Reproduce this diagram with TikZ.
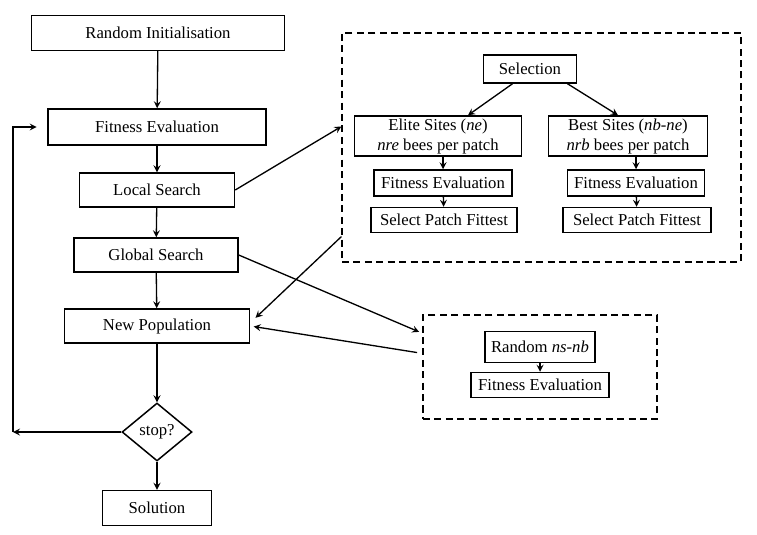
\documentclass[tikz,border=0pt]{standalone}
\usepackage{fontspec}
\setmainfont{Liberation Serif}
\usetikzlibrary{shapes.geometric}

\begin{document}
\begin{tikzpicture}[x=0.02cm, y=-0.02cm, >=stealth, line width=0.75pt,
  every node/.style={font=\fontsize{9.5}{11.4}\selectfont},
  box/.style={draw, line width=0.85pt, inner sep=1pt, minimum height=0.68cm},
  small box/.style={box, minimum height=0.5cm},
  dash box/.style={draw, line width=0.75pt, dash pattern=on 4pt off 2.5pt},
  decision/.style={draw, diamond, line width=0.85pt, inner sep=1pt,
    minimum width=1.4cm, minimum height=1.16cm}]

\useasboundingbox (0,0) rectangle (757,534);

% main loop
\node [box, minimum width=5.06cm, minimum height=0.7cm] (init) at (158,33) {Random Initialisation};
\node [box, minimum width=4.36cm, minimum height=0.72cm] (fit) at (157,127) {Fitness Evaluation};
\node [box, minimum width=3.10cm] (local) at (157,190) {Local Search};
\node [box, minimum width=3.28cm] (global) at (156,255) {Global Search};
\node [box, minimum width=3.70cm] (newpop) at (157,326) {New Population};
\node [decision] (stop) at (157,432) {stop?};
\node [box, minimum width=2.18cm, minimum height=0.7cm] (solution) at (157,508) {Solution};

\foreach \a/\b in {init/fit, fit/local, local/global, global/newpop, newpop/stop, stop/solution}
  \draw [->] (\a) -- (\b);

% back to fitness evaluation
\coordinate (loop) at (13,432);
\draw [->] (stop) -- (loop);
\draw [->] (loop) |- ([xshift=-6pt]fit.west);

% local search box
\node [dash box, minimum width=7.98cm, minimum height=4.58cm] (lsbox) at (541.5,147.5) {};
\node [box, minimum width=1.86cm, minimum height=0.56cm] (selection) at (530,69) {Selection};
\node [box, minimum width=3.34cm, minimum height=0.8cm, align=center] (elite) at (438,136)
  {Elite Sites (\textit{ne})\\\textit{nre} bees per patch};
\node [box, minimum width=3.18cm, minimum height=0.8cm, align=center] (best) at (628,136)
  {Best Sites (\textit{nb-ne})\\\textit{nrb} bees per patch};
\node [small box, minimum width=2.76cm, minimum height=0.52cm] (fit-1) at (443,183) {Fitness Evaluation};
\node [small box, minimum width=2.92cm] (select-1) at (444,220) {Select Patch Fittest};
\node [small box, minimum width=2.74cm, minimum height=0.52cm] (fit-2) at (636,183) {Fitness Evaluation};
\node [small box, minimum width=2.96cm] (select-2) at (637,220) {Select Patch Fittest};

\draw [->] ([xshift=-0.35cm]selection.south) -- ([xshift=0.6cm]elite.north);
\draw [->] ([xshift=0.75cm]selection.south) -- ([xshift=-0.2cm]best.north);
\foreach \i/\s in {1/elite, 2/best} {
  \draw [->] (\s.south -| fit-\i) -- (fit-\i);
  \draw [->] (fit-\i) -- (select-\i);
}

% global search box
\node [dash box, minimum width=4.68cm, minimum height=2.08cm] (gsbox) at (540,367) {};
\node [box, minimum width=2.2cm, minimum height=0.62cm] (random) at (540,347) {Random \textit{ns-nb}};
\node [small box, minimum width=2.76cm] (fit-3) at (540,385) {Fitness Evaluation};
\draw [->] (random) -- (fit-3);

% links between the loop and the boxes
\draw [->] (local.east) -- (lsbox.174);
\draw [->] (lsbox.204) -- ([xshift=3pt]newpop.5);
\draw [->, shorten >=2pt] (global.east) -- (gsbox.164);
\draw [->, shorten >=2pt] ([xshift=-3pt]gsbox.173) -- (newpop.east);

\end{tikzpicture}
\end{document}
